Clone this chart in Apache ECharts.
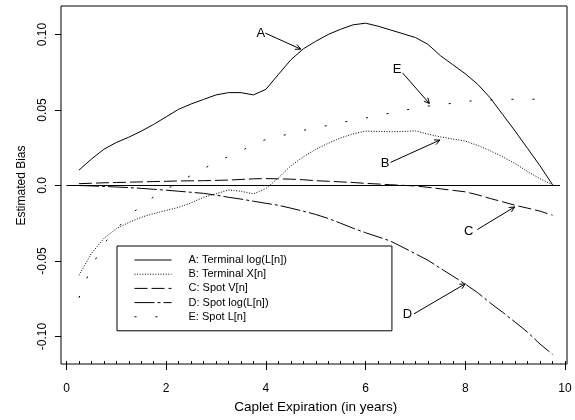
<!DOCTYPE html>
<html><head><meta charset="utf-8">
<script src="https://cdn.jsdelivr.net/npm/echarts@6/dist/echarts.min.js"></script>
<style>html,body{margin:0;padding:0;background:#fff}#c{width:575px;height:420px}</style>
</head><body><div id="c"></div>
<script>
// ---- data ----
const expiry = [0.25,0.5,0.75,1,1.25,1.5,1.75,2,2.25,2.5,2.75,3,3.25,3.5,3.75,4,4.25,4.5,4.75,5,5.25,5.5,5.75,6,6.25,6.5,6.75,7,7.25,7.5,7.75,8,8.25,8.5,8.75,9,9.25,9.5,9.75];
const termLog = [0.0102,0.0175,0.0240,0.0285,0.0320,0.0360,0.0405,0.0455,0.0505,0.0540,0.0570,0.0600,0.0615,0.0615,0.0600,0.0637,0.0735,0.0832,0.0905,0.0955,0.1000,0.1035,0.1064,0.1075,0.1055,0.1030,0.1005,0.0980,0.0935,0.0860,0.0800,0.0740,0.0670,0.0580,0.0470,0.0360,0.0245,0.0130,0.0005];
const termX = [-0.0595,-0.0450,-0.0350,-0.0286,-0.0245,-0.0210,-0.0186,-0.0165,-0.0145,-0.0115,-0.0078,-0.0055,-0.0030,-0.0038,-0.0055,-0.0020,0.0050,0.0130,0.0190,0.0240,0.0280,0.0315,0.0342,0.0360,0.0358,0.0356,0.0358,0.0362,0.0340,0.0322,0.0308,0.0294,0.0265,0.0230,0.0190,0.0145,0.0092,0.0045,0.0005];
const spotV = [0.0012,0.0015,0.0018,0.0020,0.0022,0.0024,0.0026,0.0028,0.0030,0.0031,0.0032,0.0034,0.0036,0.0040,0.0044,0.0046,0.0044,0.0042,0.0038,0.0032,0.0028,0.0024,0.0020,0.0014,0.0010,0.0005,0.0001,-0.0003,-0.0012,-0.0022,-0.0032,-0.0042,-0.0062,-0.0086,-0.0108,-0.0131,-0.0150,-0.0170,-0.0197];
const spotLog = [0.0000,-0.0003,-0.0006,-0.0010,-0.0014,-0.0019,-0.0025,-0.0031,-0.0038,-0.0045,-0.0052,-0.0064,-0.0078,-0.0090,-0.0104,-0.0118,-0.0131,-0.0150,-0.0170,-0.0192,-0.0218,-0.0250,-0.0283,-0.0313,-0.0340,-0.0368,-0.0410,-0.0452,-0.0495,-0.0548,-0.0600,-0.0653,-0.0710,-0.0778,-0.0840,-0.0905,-0.0972,-0.1050,-0.1118];
const spotL = [-0.0744,-0.0540,-0.0385,-0.0290,-0.0200,-0.0135,-0.0075,-0.0025,0.0020,0.0068,0.0110,0.0157,0.0192,0.0228,0.0272,0.0305,0.0325,0.0344,0.0365,0.0383,0.0398,0.0415,0.0433,0.0447,0.0462,0.0480,0.0497,0.0512,0.0526,0.0535,0.0545,0.0557,0.0563,0.0566,0.0570,0.0571,0.0571,0.0571,0.0571];
const seriesNames = ['A: Terminal log(L[n])','B: Terminal X[n]','C: Spot V[n]','D: Spot log(L[n])','E: Spot L[n]'];
const yTickValues = [-0.10,-0.05,0,0.05,0.10];
const yTickLabels = ['-0.10','-0.05','0.0','0.05','0.10'];
const zeroLineX = [0, 9.9];
const zeroLineY = [0, 0];
const annLabels = ['A','E','B','C','D'];
const annTextX = [3.90, 6.63, 6.39, 8.07, 6.84];
const annTextY = [0.1010, 0.0766, 0.0146, -0.0301, -0.0855];
const annFromX = [3.99, 6.74, 6.50, 8.24, 6.97];
const annFromY = [0.1009, 0.0746, 0.0153, -0.0292, -0.0850];
const annToX = [4.70, 7.28, 7.49, 8.99, 8.00];
const annToY = [0.0903, 0.0543, 0.0301, -0.0142, -0.0651];

// ---- styles ----
const FONT = 'Liberation Sans';
const dashes = ['solid', [1, 1.6], [13, 4], [20, 3, 3, 3], [2, 19]];
const seriesData = [termLog, termX, spotV, spotLog, spotL];

const chart = echarts.init(document.getElementById('c'), null, {renderer: 'canvas'});

const lineSeries = seriesData.map((vals, k) => ({
  name: seriesNames[k],
  type: 'line',
  xAxisIndex: 1, yAxisIndex: 1,
  data: expiry.map((x, i) => [x, vals[i]]),
  symbol: 'none',
  clip: false,
  silent: true,
  lineStyle: {color: '#000', width: 1, type: dashes[k]},
  itemStyle: {color: '#000'}
}));

const zeroSeries = {
  name: 'zero', type: 'line', xAxisIndex: 1, yAxisIndex: 1,
  data: zeroLineX.map((x, i) => [x, zeroLineY[i]]),
  symbol: 'none', silent: true, clip: false,
  lineStyle: {color: '#000', width: 1}
};

const annSeries = {
  name: 'annotations', type: 'custom', xAxisIndex: 1, yAxisIndex: 1,
  clip: false, silent: true,
  data: annLabels.map((l, i) => [annTextX[i], annTextY[i], annFromX[i], annFromY[i], annToX[i], annToY[i]]),
  renderItem: function (params, api) {
    const i = params.dataIndex;
    const t = api.coord([api.value(0), api.value(1)]);
    const f = api.coord([api.value(2), api.value(3)]);
    const e = api.coord([api.value(4), api.value(5)]);
    const ang = Math.atan2(e[1] - f[1], e[0] - f[0]);
    const L = 6, a = Math.PI / 7;
    const h1 = [e[0] - L * Math.cos(ang - a), e[1] - L * Math.sin(ang - a)];
    const h2 = [e[0] - L * Math.cos(ang + a), e[1] - L * Math.sin(ang + a)];
    return {
      type: 'group',
      children: [
        {type: 'line', shape: {x1: f[0], y1: f[1], x2: e[0], y2: e[1]}, style: {stroke: '#000', lineWidth: 1}},
        {type: 'polyline', shape: {points: [h1, e, h2]}, style: {stroke: '#000', fill: null, lineWidth: 1}},
        {type: 'text', x: t[0], y: t[1], style: {text: annLabels[i], font: '13px "' + FONT + '"', fill: '#000', align: 'center', verticalAlign: 'middle'}}
      ]
    };
  }
};

const option = {
  animation: false,
  backgroundColor: '#fff',
  grid: [
    {left: 61, right: 8, top: 6, bottom: 56, show: true, borderColor: '#000', borderWidth: 1, backgroundColor: 'transparent'},
    {left: 66.5, right: 10, top: 34.5, bottom: 83.5}
  ],
  xAxis: [
    {gridIndex: 0, type: 'value', show: false, min: 0, max: 1},
    {gridIndex: 1, type: 'value', min: 0, max: 10, interval: 2, position: 'bottom', offset: 27.5,
     axisLine: {show: false, onZero: false}, splitLine: {show: false},
     axisTick: {show: true, length: 6, lineStyle: {color: '#000', width: 1}},
     axisLabel: {color: '#000', fontFamily: FONT, fontSize: 12, margin: 19},
     name: 'Caplet Expiration (in years)', nameLocation: 'middle', nameGap: 36,
     nameTextStyle: {color: '#000', fontFamily: FONT, fontSize: 13.5}},
    {gridIndex: 1, type: 'value', min: 0, max: 10, interval: 0.25, position: 'bottom', offset: 27.5,
     axisLine: {show: false, onZero: false}, splitLine: {show: false}, axisLabel: {show: false},
     axisTick: {show: true, inside: true, length: 3, lineStyle: {color: '#000', width: 1}}}
  ],
  yAxis: [
    {gridIndex: 0, type: 'value', show: false, min: 0, max: 1},
    {gridIndex: 1, type: 'value', min: -0.10, max: 0.10, interval: 0.05, offset: 5.5,
     axisLine: {show: false, onZero: false}, splitLine: {show: false},
     axisTick: {show: true, length: 6, lineStyle: {color: '#000', width: 1}},
     axisLabel: {color: '#000', fontFamily: FONT, fontSize: 12, margin: 12, rotate: 90,
       formatter: function (v) {
         for (let k = 0; k < yTickValues.length; k++) if (Math.abs(v - yTickValues[k]) < 1e-9) return yTickLabels[k];
         return '';
       }},
     name: 'Estimated Bias', nameLocation: 'middle', nameGap: 33,
     nameTextStyle: {color: '#000', fontFamily: FONT, fontSize: 12}}
  ],
  legend: {
    data: seriesNames,
    orient: 'vertical',
    left: 117, top: 246,
    padding: [8, 105, 8, 17],
    itemWidth: 37, itemHeight: 12, itemGap: 2.2,
    borderColor: '#000', borderWidth: 1,
    selectedMode: false,
    itemStyle: {color: 'rgba(0,0,0,0)', borderWidth: 0, opacity: 0},
    lineStyle: {width: 1},
    textStyle: {color: '#000', fontFamily: FONT, fontSize: 11, lineHeight: 12, padding: [0, 0, 0, 12]}
  },
  series: [...lineSeries, zeroSeries, annSeries]
};
chart.setOption(option);
</script>
</body></html>
